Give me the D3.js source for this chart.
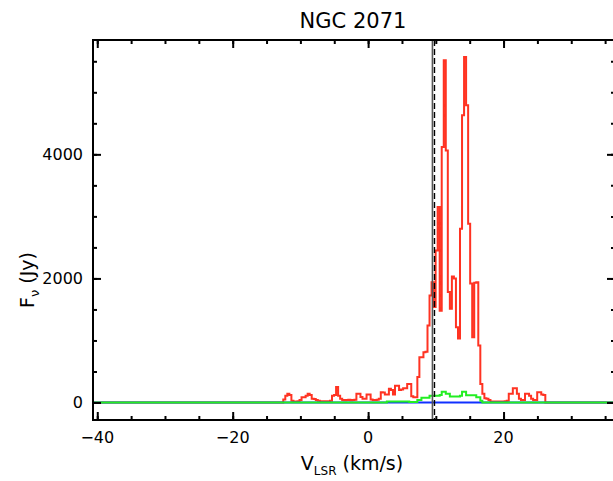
<!DOCTYPE html>
<html>
<head>
<meta charset="utf-8">
<script src="https://cdn.jsdelivr.net/npm/d3@7"></script>
<style>
  html, body { margin: 0; padding: 0; background: #fff; overflow: hidden; }
  svg { display: block; }
  svg text { font-family: "DejaVu Sans", sans-serif; fill: #000; }
</style>
</head>
<body>
<svg class="mysvg"></svg>
<script>
// spectrum channels: first channel edge and channel width (km/s)
const chanStart = -12.83;
const chanWidth = 0.3;

// flux per channel (Jy)
const redFlux = [
  0, 50, 110, 140, 120, 30, 15, 15, 20, 40,
  85, 85, 110, 140, 120, 60, 55, 40, 30, 20,
  15, 20, 15, 20, 30, 110, 120, 250, 110, 60,
  40, 35, 40, 45, 35, 40, 45, 140, 140, 90,
  60, 60, 130, 130, 50, 40, 40, 45, 60, 165,
  160, 130, 130, 220, 200, 130, 270, 270, 200, 210,
  230, 230, 300, 300, 100, 85, 85, 410, 730, 730,
  810, 820, 1240, 1725, 1940, 1540, 2450, 3150, 1480, 4120,
  5515, 4060, 1780, 1510, 2030, 2000, 1215, 1030, 2800, 4630,
  5570, 4790, 2880, 1920, 1050, 1930, 1940, 920, 300, 140,
  70, 60, 40, 15, 15, 15, 15, 15, 15, 15,
  20, 30, 140, 140, 230, 230, 140, 60, 40, 40,
  140, 140, 110, 60, 40, 40, 165, 165, 130, 120,
  0
];

const greenFlux = [
  0, 0, 0, 0, 0, 0, 0, 0, 0, 0,
  0, 0, 0, 0, 0, 0, 0, 0, 0, 0,
  0, 0, 0, 0, 0, 0, 0, 0, 0, 0,
  0, 0, 0, 0, 0, 0, 0, 0, 0, 0,
  0, 0, 0, 0, 0, 0, 0, 0, 0, 0,
  0, 0, 15, 15, 15, 15, 15, 15, 15, 15,
  15, 15, 15, 10, 10, 10, 10, 40, 40, 75,
  75, 75, 75, 110, 110, 110, 110, 110, 120, 175,
  175, 140, 140, 95, 95, 95, 95, 95, 110, 175,
  175, 115, 115, 115, 115, 115, 85, 85, 30, 0,
  0, 0, 0, 0, 0, 0, 0, 0, 0, 0,
  0, 0, 0, 0, 0, 0, 0, 0, 0, 0,
  0, 0, 0, 0, 0, 0, 0, 0, 0, 0,
  0
];

const blueFlux = [
  0, 0, 0, 0, 0, 0, 0, 0, 0, 0,
  0, 0, 0, 0, 0, 0, 0, 0, 0, 0,
  0, 0, 0, 0, 0, 0, 0, 0, 0, 0,
  0, 0, 0, 0, 0, 0, 0, 0, 0, 0,
  0, 0, 0, 0, 0, 0, 0, 0, 0, 0,
  0, 0, 0, 0, 0, 0, 0, 0, 0, 0,
  0, 0, 0, 0, 0, 0, 0, 0, 0, 0,
  0, 0, 0, 0, 0, 0, 0, 0, 0, 0,
  0, 0, 0, 0, 0, 0, 0, 0, 0, 0,
  0, 0, 0, 0, 0, 0, 0, 0, 0, 0,
  0, 0, 0, 0, 0, 0, 0, 0, 0, 0,
  0, 0, 0, 0, 0, 0, 0, 0, 0, 0,
  0, 0, 0, 0, 0, 0, 0, 0, 0, 0,
  0
];

// source velocity markers (km/s)
const solidMarker = 9.5;
const dashedMarker = 9.8;

const xMajorTicks = [-40, -20, 0, 20];
const xMinorTicks = [-40, -35, -30, -25, -20, -15, -10, -5, 0, 5, 10, 15, 20, 25, 30, 35];
const yMajorTicks = [0, 2000, 4000];
const yMinorTicks = [0, 500, 1000, 1500, 2000, 2500, 3000, 3500, 4000, 4500, 5000, 5500];

const width = 613, height = 481;
const margin = { top: 40, right: -2, bottom: 61, left: 93 };
const innerWidth = width - margin.left - margin.right;
const innerHeight = height - margin.top - margin.bottom;

const svg = d3.select(".mysvg").attr("width", width).attr("height", height);
const g = svg.append("g").attr("transform", `translate(${margin.left},${margin.top})`);

const xScale = d3.scaleLinear().domain([-40.63, 36.46]).range([0, innerWidth]);
const yScale = d3.scaleLinear().domain([-282, 5843]).range([innerHeight, 0]);

// turn channel values into step points spanning the whole axis
function stepPoints(flux) {
  const pts = [[xScale.domain()[0], 0]];
  flux.forEach((f, i) => pts.push([chanStart + i * chanWidth, f]));
  pts.push([chanStart + flux.length * chanWidth, 0]);
  pts.push([xScale.domain()[1], 0]);
  return pts;
}

const line = d3.line()
  .x((d) => xScale(d[0]))
  .y((d) => yScale(d[1]))
  .curve(d3.curveStepAfter);

g.append("path").datum(stepPoints(redFlux))
  .attr("d", line).attr("fill", "none")
  .attr("stroke", "#ff3322").attr("stroke-width", 2);

g.append("path").datum(stepPoints(blueFlux))
  .attr("d", line).attr("fill", "none")
  .attr("stroke", "#1030ff").attr("stroke-width", 2);

g.append("path").datum(stepPoints(greenFlux))
  .attr("d", line).attr("fill", "none")
  .attr("stroke", "#22ee22").attr("stroke-width", 2);

// velocity markers
g.append("line")
  .attr("x1", xScale(solidMarker)).attr("x2", xScale(solidMarker))
  .attr("y1", 0).attr("y2", innerHeight)
  .attr("stroke", "#555").attr("stroke-width", 1.6);

g.append("line")
  .attr("x1", xScale(dashedMarker)).attr("x2", xScale(dashedMarker))
  .attr("y1", 0).attr("y2", innerHeight)
  .attr("stroke", "#000").attr("stroke-width", 1.4)
  .attr("stroke-dasharray", "6,3");

// frame with inward ticks on all four sides
g.append("rect")
  .attr("width", innerWidth).attr("height", innerHeight)
  .attr("fill", "none").attr("stroke", "#000").attr("stroke-width", 2);

function ticks(axis, values, size) {
  return axis.tickValues(values).tickSize(size).tickFormat("");
}

const axes = [
  [d3.axisBottom(xScale), xMinorTicks, -4, `translate(0,${innerHeight})`],
  [d3.axisBottom(xScale), xMajorTicks, -8, `translate(0,${innerHeight})`],
  [d3.axisTop(xScale), xMinorTicks, -4, "translate(0,0)"],
  [d3.axisTop(xScale), xMajorTicks, -8, "translate(0,0)"],
  [d3.axisLeft(yScale), yMinorTicks, -4, "translate(0,0)"],
  [d3.axisLeft(yScale), yMajorTicks, -8, "translate(0,0)"],
  [d3.axisRight(yScale), yMinorTicks, -4, `translate(${innerWidth},0)`],
  [d3.axisRight(yScale), yMajorTicks, -8, `translate(${innerWidth},0)`],
];

axes.forEach(([axis, vals, size, tr]) => {
  const a = g.append("g").attr("transform", tr).call(ticks(axis, vals, size));
  a.select(".domain").remove();
  a.selectAll("text").remove(); // labels are drawn separately
  a.selectAll("line").attr("stroke", "#000").attr("stroke-width", 2);
});

// tick labels
g.selectAll(".xlab").data(xMajorTicks).enter().append("text")
  .attr("x", (d) => xScale(d)).attr("y", innerHeight + 23)
  .attr("text-anchor", "middle").style("font-size", "16px")
  .text((d) => (d < 0 ? "\u2212" + Math.abs(d) : d));

g.selectAll(".ylab").data(yMajorTicks).enter().append("text")
  .attr("x", -10).attr("y", (d) => yScale(d) + 5.5)
  .attr("text-anchor", "end").style("font-size", "16px")
  .text((d) => d);

// titles
svg.append("text").attr("x", 353).attr("y", 28)
  .attr("text-anchor", "middle").style("font-size", "21px")
  .text("NGC 2071");

const xt = svg.append("text").attr("x", 352).attr("y", 470)
  .attr("text-anchor", "middle").style("font-size", "19px");
xt.append("tspan").text("V");
xt.append("tspan").attr("dy", 5).style("font-size", "12px").text("LSR");
xt.append("tspan").attr("dy", -5).text(" (km/s)");

const yt = svg.append("text")
  .attr("transform", "translate(34,280) rotate(-90)")
  .attr("text-anchor", "middle").style("font-size", "19px");
yt.append("tspan").text("F");
yt.append("tspan").attr("dy", 5).style("font-size", "13px").text("\u03bd");
yt.append("tspan").attr("dy", -5).text(" (Jy)");
</script>
</body>
</html>
